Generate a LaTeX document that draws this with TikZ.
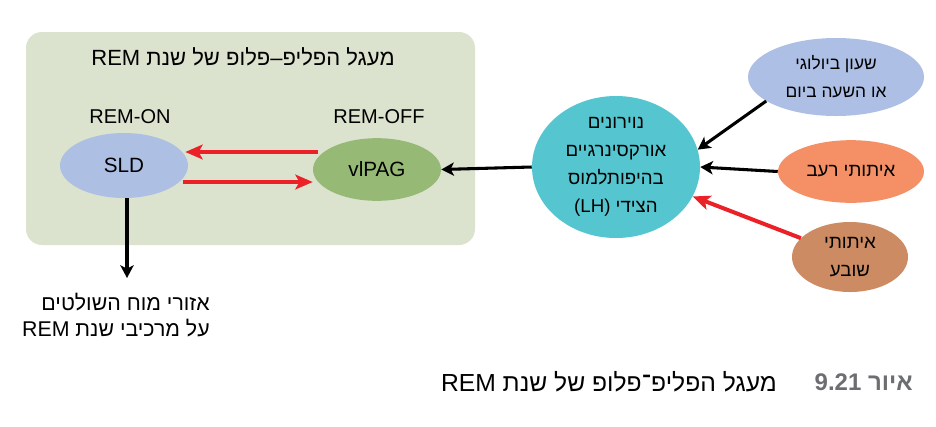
\documentclass[tikz,border=0pt]{standalone}
\usepackage{xcolor}
\usepackage{fontspec}
\setmainfont{Liberation Sans}
\newfontfamily\heb[Script=Hebrew]{Liberation Sans}
\TeXXeTstate=1
\usepackage{tikz}
\usetikzlibrary{shapes.geometric,arrows.meta,positioning}
\definecolor{Panel}{HTML}{DBE3CF}
\definecolor{SLDc}{HTML}{ADC0E4}
\definecolor{PAGc}{HTML}{96BA76}
\definecolor{LHc}{HTML}{55C6D0}
\definecolor{Clockc}{HTML}{ADBFE4}
\definecolor{Hungerc}{HTML}{F48F66}
\definecolor{Satietyc}{HTML}{CC8B62}
\definecolor{Inhib}{HTML}{EC2027}
\definecolor{Capnum}{HTML}{6D6E71}
\begin{document}
\begin{tikzpicture}[x=0.75pt,y=-0.75pt,
  oval/.style={ellipse, inner sep=0pt, align=center, font=\heb\fontsize{14}{21}\selectfont},
  label/.style={font=\heb\fontsize{15}{21}\selectfont},
  excite/.style={line width=2.3pt, -{Stealth[length=9.5pt,width=10pt,inset=2.5pt]}},
  inhibit/.style={Inhib, line width=3pt, -{Stealth[length=13pt,width=11pt,inset=3pt]}}]%
\fill[white] (0,0) rectangle (936,426);%
\useasboundingbox (0,0) rectangle (936,426);%
\fill[Panel, rounded corners=12] (26,32) rectangle (475,245);%
\node[label, font=\heb\fontsize{16.5}{21}\selectfont] (title) at (243,57) {\beginR מעגל הפליפ–פלופ של שנת \beginL REM\endL\endR};%
\node[label] (remon) at (130,117) {REM-ON};%
\node[label] (remoff) at (379,117) {REM-OFF};%
\node[oval, fill=SLDc, minimum width=96pt, minimum height=48.75pt, font=\fontsize{15.5}{21}\selectfont] (sld) at (124,165.5) {SLD};%
\node[oval, fill=PAGc, minimum width=96pt, minimum height=47pt, font=\fontsize{15.5}{21}\selectfont] (vipag) at (377,169.5) {vlPAG};%
\node[oval, fill=LHc, minimum width=126pt, minimum height=106.5pt] (lh) at (616,167) {\beginR נוירונים\endR\\\beginR אורקסינרגיים\endR\\\beginR בהיפותלמוס\endR\\\beginR הצידי \beginL(LH)\endL\endR};%
\node[oval, fill=Clockc, minimum width=132pt, minimum height=58.5pt, font=\heb\fontsize{13}{21}\selectfont] (clock) at (836,77) {\beginR שעון ביולוגי\endR\\\beginR או השעה ביום\endR};%
\node[oval, fill=Hungerc, minimum width=109.5pt, minimum height=47pt] (hunger) at (851,171.5) {\beginR איתותי רעב\endR};%
\node[oval, fill=Satietyc, minimum width=87pt, minimum height=52.5pt] (satiety) at (850,257) {\beginR איתותי\endR\\\beginR שובע\endR};%
\node[label, anchor=east, align=right, inner sep=0pt, font=\heb\fontsize{16}{20}\selectfont] (targets) at (210,315) {\beginR אזורי מוח השולטים\endR\\\beginR על מרכיבי שנת \beginL REM\endL\endR};%
\coordinate (down) at (127,278);%
\draw[inhibit] ([shift={(5,-17.5)}]vipag.west) -- ([shift={(-3,-13.5)}]sld.east);%
\draw[inhibit] ([shift={(-5,16.5)}]sld.east) -- ([shift={(0,12.5)}]vipag.west);%
\draw[excite] (sld.south -| down) -- (down);%
\draw[excite] (lh.west) -- (vipag.east);%
\draw[excite] (clock.199) -- (lh.12);%
\draw[excite] (hunger.west) -- (lh.east);%
\draw[inhibit] (satiety.159) -- (lh.-21);%
\node[anchor=east, inner sep=0pt, text=Capnum, font=\heb\bfseries\fontsize{18}{21}\selectfont] (fignum) at (913,382) {\beginR איור \beginL9.21\endL\endR};%
\node[left=28pt of fignum, inner sep=0pt, font=\heb\fontsize{18.5}{21}\selectfont] (figtitle) {\beginR מעגל הפליפ־פלופ של שנת \beginL REM\endL\endR};%
\end{tikzpicture}
\end{document}
